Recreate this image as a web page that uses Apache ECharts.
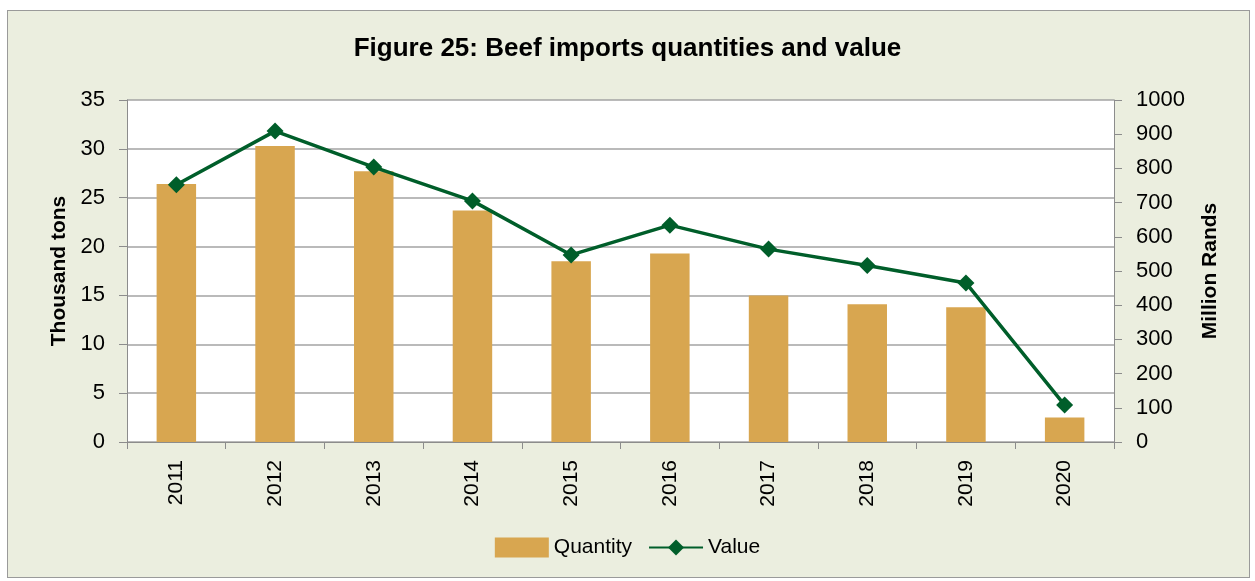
<!DOCTYPE html>
<html><head><meta charset="utf-8">
<script src="https://cdn.jsdelivr.net/npm/echarts@6/dist/echarts.min.js"></script>
<style>
html,body{margin:0;padding:0;background:#fff;}
#wrap{position:absolute;left:7px;top:10px;width:1243px;height:568px;background:#EBEEDF;border:1px solid #9a9a9a;box-sizing:border-box;}
#c{position:absolute;left:0;top:0;width:1255px;height:581px;}
</style></head>
<body>
<div id="wrap"></div>
<div id="c"></div>
<script>
const years = ['2011','2012','2013','2014','2015','2016','2017','2018','2019','2020'];
const quantity = [26.4, 30.3, 27.7, 23.7, 18.5, 19.3, 15.0, 14.1, 13.8, 2.5];
const value = [752, 909, 804, 705, 547, 634, 564, 516, 465, 108];

const F = '"Liberation Sans Narrow","Arial Narrow","Liberation Sans",Arial,sans-serif';
const chart = echarts.init(document.getElementById('c'), null, {renderer:'canvas'});
chart.setOption({
  backgroundColor: 'transparent',
  animation: false,
  title: {
    text: 'Figure 25: Beef imports quantities and value',
    left: 'center', top: 31,
    textStyle: {fontFamily: 'Liberation Sans, Arial, sans-serif', fontWeight: 'bold', fontSize: 26, color: '#000'}
  },
  legend: {
    bottom: 18, left: 'center', itemGap: 16, itemWidth: 54, itemHeight: 20,
    textStyle: {fontFamily: F, fontSize: 21, color: '#000'},
    data: [{name: 'Quantity', icon: 'rect'}, {name: 'Value'}]
  },
  grid: {show: true, backgroundColor: '#ffffff', borderWidth: 0, left: 127, right: 141, top: 100, bottom: 139},
  xAxis: {
    type: 'category', data: years,
    axisLine: {lineStyle: {color: '#8c8c8c', width: 1}},
    axisTick: {show: true, alignWithLabel: false, length: 7, lineStyle: {color: '#8c8c8c'}},
    axisLabel: {rotate: 90, fontFamily: F, fontSize: 21, color: '#000', margin: 18}
  },
  yAxis: [
    {
      type: 'value', min: 0, max: 35, interval: 5,
      name: 'Thousand tons', nameLocation: 'middle', nameGap: 57, nameRotate: 90,
      nameTextStyle: {fontFamily: 'Liberation Sans, Arial, sans-serif', fontWeight: 'bold', fontSize: 21, color: '#000'},
      axisLine: {show: true, lineStyle: {color: '#8c8c8c'}},
      axisTick: {show: true, length: 8, lineStyle: {color: '#8c8c8c'}},
      axisLabel: {fontFamily: F, fontSize: 22, color: '#000', margin: 22},
      splitLine: {lineStyle: {color: '#a3a3a3', width: 1.5}}
    },
    {
      type: 'value', min: 0, max: 1000, interval: 100,
      name: 'Million Rands', nameLocation: 'middle', nameGap: 86, nameRotate: 90,
      nameTextStyle: {fontFamily: 'Liberation Sans, Arial, sans-serif', fontWeight: 'bold', fontSize: 21, color: '#000'},
      axisLine: {show: true, lineStyle: {color: '#8c8c8c'}},
      axisTick: {show: true, length: 8, lineStyle: {color: '#8c8c8c'}},
      axisLabel: {fontFamily: F, fontSize: 22, color: '#000', margin: 22, formatter: v => String(v)},
      splitLine: {show: false}
    }
  ],
  series: [
    {
      name: 'Quantity', type: 'bar', data: quantity, barWidth: '40%',
      itemStyle: {color: '#D8A650'}, yAxisIndex: 0
    },
    {
      name: 'Value', type: 'line', data: value, yAxisIndex: 1,
      symbol: 'diamond', symbolSize: 17, showAllSymbol: true,
      lineStyle: {color: '#005E2A', width: 3.5},
      itemStyle: {color: '#005E2A'}
    }
  ]
});
</script>
</body></html>
